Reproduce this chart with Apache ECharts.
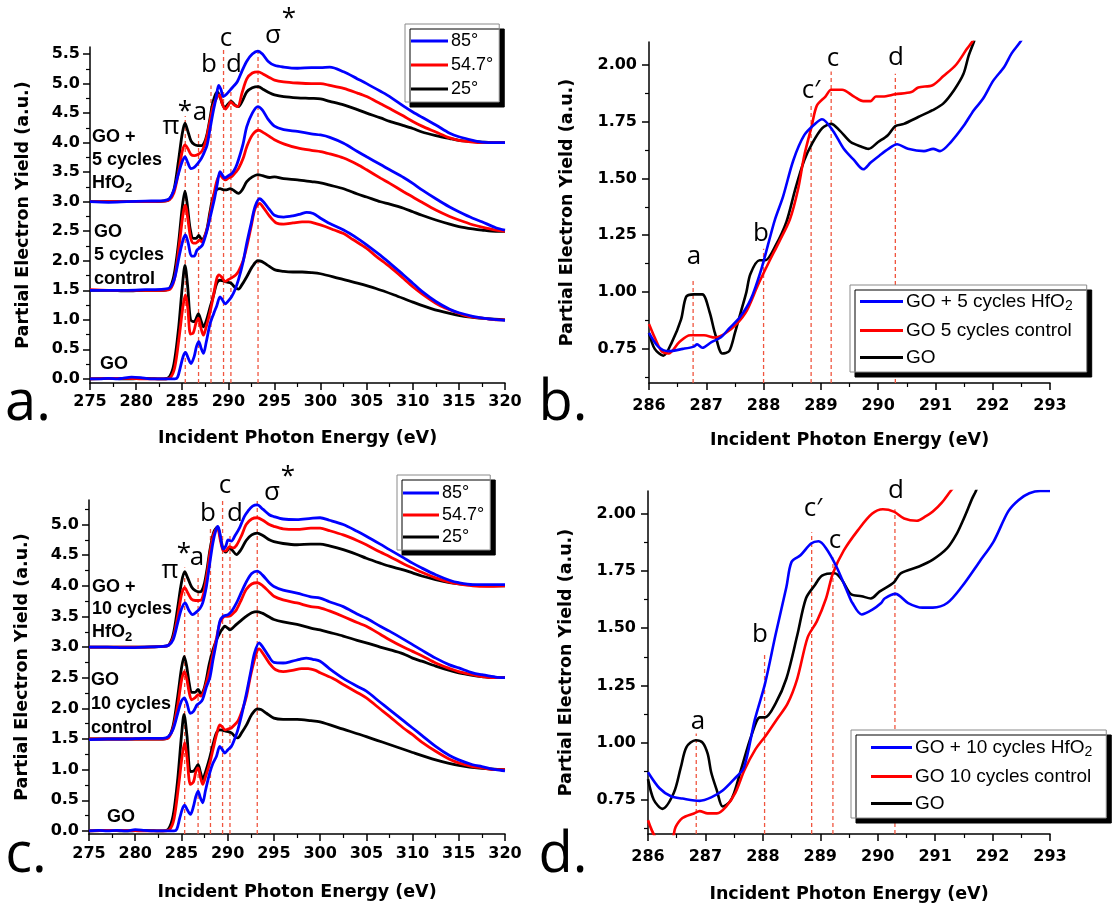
<!DOCTYPE html>
<html><head><meta charset="utf-8">
<script src="https://cdn.jsdelivr.net/npm/echarts@6/dist/echarts.min.js"></script>
<style>html,body{margin:0;padding:0;background:#fff}#c{width:1119px;height:905px}</style>
</head><body><div id="c"></div><script>
// ---------- DATA ----------
// Panel a : offsets 0 (GO), 1.5 (GO 5 cycles control), 3.0 (GO + 5 cycles HfO2)
const aGO_25=[[275,0.0],[277,0.01],[279,0.0],[281,0.01],[283,0.0],[283.6,0.03],[284.1,0.25],[284.6,0.85],[285.0,1.55],[285.3,1.92],[285.6,1.55],[285.9,1.0],[286.3,0.97],[286.75,1.1],[287.05,0.98],[287.3,0.88],[287.6,0.98],[288.0,1.2],[288.4,1.42],[288.75,1.62],[289.1,1.67],[289.5,1.66],[289.8,1.64],[290.3,1.62],[290.7,1.55],[291.1,1.52],[291.5,1.6],[292.0,1.73],[292.6,1.9],[293.2,2.0],[293.6,1.99],[294.2,1.93],[295,1.85],[296,1.82],[297,1.81],[298,1.81],[299,1.8],[300,1.78],[302,1.7],[304,1.62],[306,1.53],[308,1.42],[310,1.3],[312,1.19],[314,1.11],[316,1.05],[318,1.02],[320,1.0]];
const aGO_54=[[275,0.0],[277,0.01],[279,0.01],[281,0.0],[283,0.0],[283.7,0.02],[284.2,0.2],[284.7,0.75],[285.1,1.25],[285.35,1.42],[285.6,1.2],[285.9,0.76],[286.2,0.78],[286.5,0.95],[286.75,1.03],[287.0,0.88],[287.3,0.74],[287.6,0.88],[288.0,1.12],[288.4,1.42],[288.75,1.7],[289.0,1.76],[289.3,1.72],[289.65,1.65],[290.0,1.68],[290.35,1.71],[290.8,1.76],[291.1,1.82],[291.6,2.0],[292.0,2.24],[292.5,2.6],[292.9,2.88],[293.4,2.97],[293.8,2.9],[294.5,2.75],[295.2,2.64],[296,2.62],[297,2.64],[298,2.66],[298.7,2.66],[299.5,2.63],[300.5,2.58],[301.5,2.52],[302.5,2.46],[303.5,2.36],[305,2.21],[306,2.08],[307.5,1.9],[309,1.7],[310,1.56],[311,1.44],[312.5,1.28],[313.5,1.2],[315,1.11],[316,1.06],[317.5,1.03],[319,1.0],[320,1.0]];
const aGO_85=[[275,0.0],[276,0.0],[277,0.01],[278,0.0],[278.5,0.01],[279.5,0.03],[280.5,0.02],[281.5,0.0],[283,0.0],[284.2,0.0],[284.5,0.03],[284.8,0.2],[285.1,0.38],[285.35,0.45],[285.65,0.35],[285.95,0.26],[286.3,0.38],[286.55,0.55],[286.8,0.63],[287.05,0.52],[287.3,0.43],[287.6,0.62],[288.0,0.92],[288.4,1.1],[288.75,1.24],[289.1,1.39],[289.35,1.34],[289.65,1.27],[290.0,1.32],[290.35,1.39],[290.7,1.5],[291.1,1.68],[291.6,1.98],[292.0,2.3],[292.5,2.65],[292.9,2.92],[293.4,3.05],[293.8,3.0],[294.4,2.88],[295,2.77],[296,2.74],[297,2.76],[297.8,2.79],[298.5,2.82],[299.2,2.8],[300,2.72],[301,2.63],[302.5,2.52],[304,2.38],[305,2.27],[306.5,2.09],[307.5,1.96],[309,1.76],[310,1.62],[311,1.48],[312.5,1.31],[314,1.18],[315,1.12],[316.5,1.06],[318,1.02],[320,0.99]];
const aC5_25=[[275,1.5],[277,1.5],[279,1.49],[281,1.5],[283,1.5],[283.6,1.53],[284.1,1.75],[284.6,2.3],[285.0,2.9],[285.3,3.18],[285.55,2.95],[285.85,2.55],[286.2,2.38],[286.5,2.38],[286.8,2.43],[287.1,2.36],[287.4,2.4],[287.7,2.55],[288.0,2.82],[288.3,3.05],[288.7,3.2],[289.1,3.22],[289.5,3.2],[289.8,3.2],[290.2,3.22],[290.5,3.2],[291.1,3.14],[291.5,3.2],[292.0,3.34],[292.6,3.42],[293.2,3.46],[293.7,3.44],[294.5,3.41],[295,3.42],[296,3.39],[297.5,3.37],[299,3.34],[300,3.32],[301,3.28],[302.5,3.22],[304,3.13],[305,3.08],[306.5,3.0],[307.5,2.96],[309,2.89],[310,2.83],[311,2.77],[312.5,2.69],[314,2.62],[315,2.58],[316.5,2.54],[317.5,2.52],[319,2.5],[320,2.5]];
const aC5_54=[[275,1.51],[277,1.5],[279,1.5],[281,1.5],[283,1.5],[283.7,1.52],[284.2,1.72],[284.7,2.3],[285.1,2.8],[285.35,2.94],[285.6,2.72],[285.9,2.4],[286.2,2.3],[286.5,2.3],[286.85,2.35],[287.15,2.32],[287.5,2.44],[287.8,2.6],[288.1,2.85],[288.4,3.1],[288.75,3.35],[289.1,3.45],[289.4,3.4],[289.7,3.37],[290.0,3.4],[290.4,3.43],[290.8,3.5],[291.1,3.56],[291.6,3.73],[292.0,3.93],[292.6,4.13],[293.3,4.21],[293.8,4.17],[294.5,4.1],[295,4.05],[296,3.98],[297.5,3.91],[299,3.87],[300,3.85],[301,3.81],[302.5,3.74],[304,3.63],[305,3.54],[306.5,3.4],[307.5,3.31],[309,3.17],[310,3.08],[311,2.99],[312.5,2.86],[314,2.75],[315,2.69],[316.5,2.61],[317.5,2.57],[319,2.52],[320,2.5]];
const aC5_85=[[275,1.5],[277,1.5],[279,1.5],[281,1.51],[283,1.52],[283.7,1.55],[284.2,1.72],[284.7,2.1],[285.1,2.36],[285.35,2.44],[285.65,2.3],[286.0,2.08],[286.3,2.08],[286.6,2.18],[286.9,2.22],[287.2,2.27],[287.6,2.46],[287.9,2.65],[288.2,2.85],[288.5,3.05],[288.8,3.3],[289.1,3.51],[289.4,3.44],[289.6,3.4],[290.0,3.44],[290.4,3.48],[290.8,3.58],[291.1,3.71],[291.6,3.98],[292.0,4.27],[292.6,4.5],[293.2,4.61],[293.7,4.55],[294.3,4.4],[295,4.28],[296,4.22],[297.5,4.19],[299,4.15],[300,4.13],[301,4.09],[302.5,3.99],[304,3.85],[305,3.76],[306.5,3.63],[307.5,3.54],[309,3.41],[310,3.31],[311,3.2],[312.5,3.05],[314,2.91],[315,2.83],[316.5,2.72],[317.5,2.66],[319,2.56],[320,2.52]];
const aH5_25=[[275,3.0],[277,3.0],[279,3.0],[281,3.0],[283,3.01],[283.6,3.04],[284.1,3.2],[284.6,3.7],[285.0,4.15],[285.3,4.33],[285.6,4.2],[285.95,4.03],[286.3,3.97],[286.7,3.95],[287.1,3.95],[287.4,4.0],[287.7,4.15],[288.0,4.4],[288.35,4.7],[288.8,4.86],[289.05,4.8],[289.3,4.68],[289.6,4.59],[289.95,4.65],[290.3,4.7],[290.7,4.64],[291.1,4.61],[291.5,4.7],[292.0,4.86],[292.6,4.93],[293.25,4.95],[293.8,4.9],[294.5,4.84],[295,4.81],[296,4.78],[297.5,4.76],[299,4.75],[300,4.74],[301,4.7],[302.5,4.64],[304,4.56],[305,4.5],[306.5,4.42],[307.5,4.36],[309,4.29],[310,4.24],[311,4.18],[312.5,4.12],[314,4.07],[315,4.04],[316.5,4.02],[317.5,4.01],[319,4.0],[320,4.0]];
const aH5_54=[[275,3.0],[277,3.0],[279,3.0],[281,3.0],[283,3.01],[283.6,3.03],[284.1,3.15],[284.6,3.5],[285.0,3.85],[285.3,3.96],[285.6,3.9],[285.95,3.8],[286.3,3.78],[286.7,3.8],[287.1,3.85],[287.4,3.95],[287.7,4.12],[288.0,4.36],[288.35,4.62],[288.75,4.76],[289.05,4.81],[289.35,4.65],[289.7,4.57],[290.0,4.63],[290.25,4.69],[290.6,4.64],[291.0,4.61],[291.5,4.85],[292.0,5.08],[292.6,5.18],[293.25,5.2],[293.8,5.16],[294.5,5.1],[295,5.06],[296,5.03],[297.5,5.01],[299,5.0],[300,5.0],[301,4.97],[302.5,4.92],[304,4.84],[305,4.78],[306.5,4.66],[307.5,4.58],[309,4.45],[310,4.36],[311,4.28],[312.5,4.18],[314,4.08],[315,4.04],[316.5,4.01],[317.5,4.0],[319,4.0],[320,4.0]];
const aH5_85=[[275,3.0],[277,2.99],[279,3.0],[281,3.01],[283,3.02],[283.6,3.05],[284.1,3.2],[284.6,3.48],[285.0,3.68],[285.3,3.76],[285.6,3.66],[285.95,3.56],[286.3,3.58],[286.7,3.65],[287.1,3.74],[287.4,3.84],[287.7,3.96],[288.0,4.22],[288.35,4.52],[288.7,4.78],[288.95,4.97],[289.2,4.9],[289.45,4.78],[289.8,4.82],[290.2,4.89],[290.6,4.96],[291.0,5.04],[291.5,5.22],[292.0,5.38],[292.6,5.5],[293.2,5.55],[293.7,5.5],[294.3,5.38],[295,5.31],[296,5.28],[297.5,5.26],[299,5.27],[300,5.27],[301,5.28],[302.5,5.2],[304,5.08],[305,5.0],[306.5,4.87],[307.5,4.78],[309,4.62],[310,4.52],[311,4.43],[312.5,4.3],[314,4.16],[315,4.1],[316.5,4.04],[317.5,4.01],[319,4.0],[320,4.0]];
// Panel c : offsets 0 (GO), 1.5 (GO 10 cycles control), 3.0 (GO + 10 cycles HfO2)
const cGO_25=[[275,0.0],[277,0.01],[279,0.0],[281,0.01],[283,0.0],[283.6,0.03],[284.1,0.25],[284.6,0.85],[285.0,1.55],[285.28,1.9],[285.6,1.55],[285.97,0.97],[286.35,0.98],[286.8,1.08],[287.05,0.96],[287.3,0.84],[287.6,0.96],[288.07,1.2],[288.4,1.4],[288.79,1.6],[289.15,1.65],[289.5,1.64],[289.8,1.63],[290.4,1.6],[290.8,1.54],[291.1,1.52],[291.5,1.6],[292.04,1.73],[292.6,1.9],[293.2,1.99],[293.6,1.98],[294.2,1.92],[295,1.84],[296,1.82],[297.5,1.82],[299,1.8],[300,1.78],[302.5,1.66],[305,1.54],[307.5,1.41],[310,1.28],[312.5,1.16],[315,1.07],[317.5,1.02],[320,1.0]];
const cGO_54=[[275,0.0],[277,0.01],[279,0.01],[281,0.0],[283,0.0],[283.7,0.02],[284.2,0.2],[284.7,0.75],[285.1,1.25],[285.35,1.44],[285.6,1.2],[285.97,0.76],[286.3,0.8],[286.55,0.96],[286.8,1.03],[287.05,0.88],[287.3,0.76],[287.6,0.88],[288.07,1.11],[288.4,1.32],[288.79,1.57],[289.15,1.73],[289.4,1.7],[289.7,1.65],[290.0,1.66],[290.4,1.68],[290.8,1.74],[291.1,1.79],[291.6,1.98],[292.04,2.2],[292.5,2.55],[293.1,2.9],[293.4,2.97],[293.8,2.9],[294.5,2.74],[295.2,2.63],[296,2.6],[297,2.62],[298,2.65],[298.7,2.65],[299.5,2.62],[300,2.58],[301.5,2.48],[302.5,2.39],[304,2.26],[305,2.17],[306.5,1.99],[307.5,1.87],[309,1.68],[310,1.57],[311,1.45],[312.5,1.3],[314,1.17],[315,1.11],[316.5,1.05],[317.5,1.03],[319,1.0],[320,1.0]];
const cGO_85=[[275,0.0],[276,0.01],[277,0.0],[278,0.01],[279,0.0],[280,0.02],[281,0.01],[282,0.0],[284.2,0.0],[284.5,0.03],[284.8,0.2],[285.1,0.36],[285.35,0.42],[285.65,0.34],[285.97,0.27],[286.3,0.4],[286.55,0.56],[286.8,0.65],[287.05,0.54],[287.3,0.46],[287.6,0.66],[288.07,0.95],[288.4,1.1],[288.79,1.22],[289.15,1.38],[289.4,1.33],[289.7,1.27],[290.0,1.32],[290.4,1.38],[290.7,1.48],[291.1,1.65],[291.6,1.95],[292.04,2.25],[292.5,2.6],[292.9,2.9],[293.4,3.07],[293.8,3.0],[294.4,2.86],[295,2.75],[296,2.74],[297,2.77],[297.8,2.8],[298.5,2.82],[299.2,2.8],[300,2.77],[301,2.65],[302.5,2.49],[304,2.36],[305,2.28],[306.5,2.1],[307.5,1.98],[309,1.8],[310,1.68],[311,1.56],[312.5,1.38],[314,1.23],[315,1.16],[316.5,1.08],[317.5,1.05],[319,1.0],[320,0.98]];
const cC10_25=[[275,1.5],[277,1.5],[279,1.5],[281,1.5],[283,1.5],[283.6,1.53],[284.1,1.72],[284.6,2.2],[285.0,2.65],[285.3,2.85],[285.55,2.7],[285.85,2.4],[286.1,2.26],[286.45,2.26],[286.8,2.31],[287.1,2.24],[287.4,2.3],[287.7,2.48],[288.0,2.72],[288.4,2.95],[288.8,3.12],[289.15,3.23],[289.45,3.3],[289.7,3.34],[290.0,3.31],[290.25,3.28],[290.6,3.32],[290.95,3.37],[291.5,3.44],[292.0,3.5],[292.6,3.56],[293.2,3.58],[293.8,3.55],[294.5,3.49],[295,3.45],[296,3.41],[297.5,3.37],[299,3.31],[300,3.28],[301,3.24],[302.5,3.18],[304,3.11],[305,3.07],[306.5,3.0],[307.5,2.96],[309,2.89],[310,2.82],[311,2.77],[312.5,2.69],[314,2.62],[315,2.58],[316.5,2.54],[317.5,2.52],[319,2.5],[320,2.5]];
const cC10_54=[[275,1.5],[277,1.5],[279,1.5],[281,1.5],[283,1.5],[283.6,1.52],[284.1,1.68],[284.6,2.05],[285.0,2.45],[285.3,2.6],[285.55,2.5],[285.85,2.25],[286.1,2.14],[286.45,2.17],[286.8,2.22],[287.1,2.2],[287.4,2.27],[287.7,2.42],[288.0,2.6],[288.4,2.88],[288.8,3.15],[289.15,3.39],[289.45,3.47],[289.7,3.5],[290.0,3.5],[290.3,3.51],[290.6,3.55],[290.95,3.61],[291.5,3.78],[292.0,3.94],[292.6,4.03],[293.2,4.05],[293.8,4.0],[294.5,3.9],[295,3.83],[296,3.77],[297.5,3.72],[299,3.66],[300,3.64],[301,3.59],[302.5,3.5],[304,3.4],[305,3.34],[306.5,3.21],[307.5,3.12],[309,3.0],[310,2.93],[311,2.86],[312.5,2.74],[314,2.65],[315,2.6],[316.5,2.55],[317.5,2.52],[319,2.5],[320,2.5]];
const cC10_85=[[275,1.49],[277,1.5],[279,1.5],[281,1.51],[283,1.51],[283.6,1.54],[284.1,1.66],[284.6,1.92],[285.0,2.12],[285.3,2.17],[285.6,2.08],[285.95,1.92],[286.3,1.95],[286.7,2.06],[287.0,2.09],[287.3,2.15],[287.7,2.35],[288.07,2.5],[288.4,2.78],[288.8,3.1],[289.15,3.42],[289.5,3.5],[290.05,3.53],[290.5,3.6],[290.96,3.72],[291.5,3.9],[292.04,4.07],[292.6,4.2],[293.2,4.24],[293.8,4.17],[294.5,4.05],[295,3.99],[296,3.93],[297.5,3.88],[299,3.82],[300,3.8],[301,3.74],[302.5,3.66],[304,3.54],[305,3.47],[306.5,3.34],[307.5,3.26],[309,3.13],[310,3.04],[311,2.95],[312.5,2.82],[314,2.71],[315,2.66],[316.5,2.58],[317.5,2.55],[319,2.51],[320,2.5]];
const cH10_25=[[275,3.0],[277,3.0],[279,3.0],[281,3.0],[283,3.01],[283.6,3.03],[284.1,3.2],[284.6,3.65],[285.0,4.05],[285.35,4.23],[285.7,4.12],[286.1,3.98],[286.5,3.92],[286.9,3.9],[287.2,3.92],[287.5,4.05],[287.8,4.3],[288.1,4.6],[288.5,4.88],[288.9,4.96],[289.2,4.8],[289.5,4.6],[289.8,4.55],[290.2,4.62],[290.5,4.58],[290.95,4.51],[291.4,4.58],[292.0,4.74],[292.6,4.83],[293.2,4.86],[293.8,4.82],[294.5,4.75],[295,4.72],[296,4.69],[297.5,4.67],[299,4.68],[300,4.68],[301,4.65],[302.5,4.59],[304,4.51],[305,4.45],[306.5,4.37],[307.5,4.32],[309,4.26],[310,4.21],[311,4.16],[312.5,4.1],[314,4.05],[315,4.03],[316.5,4.01],[318,4.0],[320,4.0]];
const cH10_54=[[275,3.0],[277,3.0],[279,3.0],[281,3.0],[283,3.01],[283.6,3.03],[284.1,3.15],[284.6,3.5],[285.0,3.85],[285.35,3.97],[285.7,3.88],[286.1,3.78],[286.5,3.76],[286.9,3.76],[287.2,3.78],[287.5,3.95],[287.8,4.22],[288.1,4.55],[288.5,4.85],[288.9,4.95],[289.2,4.75],[289.5,4.58],[289.8,4.57],[290.2,4.64],[290.6,4.62],[290.95,4.66],[291.5,4.82],[292.0,5.0],[292.6,5.09],[293.2,5.11],[293.8,5.07],[294.5,5.0],[295,4.97],[296,4.93],[297.5,4.92],[299,4.94],[300,4.94],[301,4.9],[302.5,4.83],[304,4.74],[305,4.67],[306.5,4.55],[307.5,4.48],[309,4.36],[310,4.29],[311,4.22],[312.5,4.13],[314,4.06],[315,4.03],[316.5,4.0],[318,3.99],[320,4.0]];
const cH10_85=[[275,3.0],[277,3.0],[279,2.99],[281,3.0],[283,3.01],[283.6,3.03],[284.1,3.12],[284.6,3.4],[285.0,3.62],[285.4,3.72],[285.8,3.6],[286.2,3.53],[286.6,3.57],[287.0,3.63],[287.3,3.72],[287.7,3.99],[288.0,4.3],[288.4,4.7],[288.75,4.92],[288.95,4.97],[289.2,4.82],[289.5,4.6],[289.8,4.65],[290.05,4.75],[290.4,4.73],[290.8,4.82],[291.3,4.95],[291.8,5.13],[292.2,5.22],[292.7,5.3],[293.2,5.32],[293.8,5.25],[294.5,5.16],[295,5.13],[296,5.09],[297.5,5.08],[299,5.1],[300,5.11],[301,5.07],[302.5,5.0],[304,4.89],[305,4.81],[306.5,4.68],[307.5,4.59],[309,4.46],[310,4.37],[311,4.29],[312.5,4.18],[314,4.09],[315,4.05],[316.5,4.02],[318,4.02],[320,4.02]];
// Panel b (zoom, 5 cycles)
const bH5=[[286.0,0.82],[286.16,0.76],[286.34,0.74],[286.59,0.75],[286.78,0.76],[286.84,0.77],[286.93,0.755],[287.09,0.78],[287.25,0.8],[287.4,0.84],[287.59,0.89],[287.78,0.97],[287.96,1.1],[288.09,1.22],[288.2,1.32],[288.34,1.42],[288.52,1.58],[288.71,1.69],[288.9,1.74],[289.02,1.76],[289.21,1.71],[289.4,1.63],[289.58,1.58],[289.74,1.54],[289.87,1.57],[290.02,1.6],[290.18,1.63],[290.33,1.65],[290.52,1.63],[290.8,1.62],[290.96,1.63],[291.08,1.62],[291.27,1.66],[291.49,1.73],[291.67,1.8],[291.83,1.85],[292.01,1.93],[292.2,1.99],[292.33,2.05],[292.48,2.1],[292.6,2.15]];
const bC5=[[286.0,0.86],[286.1,0.8],[286.22,0.74],[286.34,0.73],[286.53,0.78],[286.72,0.81],[286.96,0.81],[287.15,0.8],[287.34,0.82],[287.53,0.86],[287.71,0.92],[287.9,1.03],[288.09,1.13],[288.27,1.22],[288.46,1.32],[288.6,1.45],[288.71,1.6],[288.84,1.73],[288.93,1.82],[289.08,1.86],[289.18,1.89],[289.37,1.89],[289.58,1.86],[289.74,1.84],[289.87,1.84],[289.96,1.86],[290.08,1.86],[290.3,1.87],[290.58,1.88],[290.7,1.9],[290.95,1.91],[291.14,1.95],[291.36,2.0],[291.55,2.07],[291.64,2.1],[291.75,2.15]];
const bGO=[[286.0,0.82],[286.1,0.75],[286.25,0.72],[286.4,0.78],[286.56,0.88],[286.65,0.98],[286.78,0.99],[286.93,0.99],[287.06,0.91],[287.15,0.82],[287.28,0.73],[287.4,0.74],[287.5,0.82],[287.6,0.91],[287.7,1.0],[287.77,1.08],[287.93,1.14],[288.03,1.14],[288.2,1.2],[288.4,1.31],[288.55,1.45],[288.71,1.58],[288.84,1.65],[289.02,1.72],[289.18,1.74],[289.33,1.71],[289.52,1.66],[289.7,1.64],[289.83,1.63],[290.0,1.66],[290.17,1.69],[290.3,1.73],[290.45,1.74],[290.7,1.77],[290.95,1.8],[291.14,1.83],[291.33,1.89],[291.49,1.96],[291.58,2.04],[291.67,2.1],[291.75,2.16]];
// Panel d (zoom, 10 cycles)
const dH10=[[286.0,0.87],[286.2,0.8],[286.4,0.765],[286.6,0.755],[286.9,0.745],[287.1,0.76],[287.3,0.79],[287.5,0.84],[287.67,0.89],[287.86,1.1],[288.04,1.26],[288.22,1.47],[288.41,1.68],[288.5,1.79],[288.66,1.82],[288.84,1.87],[288.97,1.88],[289.1,1.85],[289.28,1.77],[289.47,1.66],[289.56,1.61],[289.72,1.56],[289.9,1.58],[290.06,1.61],[290.12,1.63],[290.31,1.65],[290.53,1.61],[290.78,1.59],[290.96,1.59],[291.21,1.61],[291.46,1.68],[291.77,1.79],[292.02,1.88],[292.27,2.01],[292.45,2.06],[292.64,2.09],[292.83,2.1],[293.0,2.1]];
const dC10=[[286.0,0.66],[286.2,0.57],[286.4,0.57],[286.48,0.63],[286.6,0.67],[286.8,0.69],[286.9,0.7],[287.04,0.69],[287.2,0.69],[287.36,0.72],[287.52,0.78],[287.68,0.88],[287.87,0.97],[288.05,1.03],[288.24,1.1],[288.43,1.17],[288.6,1.28],[288.78,1.46],[288.94,1.53],[289.1,1.63],[289.22,1.74],[289.41,1.84],[289.66,1.93],[289.9,2.0],[290.09,2.02],[290.28,2.01],[290.46,1.98],[290.68,1.97],[290.84,1.99],[290.96,2.01],[291.12,2.05],[291.27,2.1],[291.4,2.14]];
const dGO=[[286.0,0.84],[286.1,0.75],[286.25,0.71],[286.45,0.78],[286.57,0.89],[286.67,0.98],[286.83,1.01],[286.95,1.0],[287.04,0.95],[287.1,0.87],[287.2,0.79],[287.3,0.72],[287.42,0.74],[287.5,0.78],[287.63,0.89],[287.8,1.03],[287.95,1.11],[288.04,1.11],[288.22,1.17],[288.41,1.28],[288.6,1.47],[288.75,1.63],[288.91,1.69],[289.03,1.73],[289.25,1.74],[289.38,1.71],[289.53,1.65],[289.72,1.64],[289.88,1.63],[290.03,1.66],[290.28,1.7],[290.4,1.74],[290.72,1.77],[290.96,1.8],[291.21,1.85],[291.37,1.91],[291.5,1.98],[291.65,2.07],[291.71,2.1],[291.8,2.16]];
// Dashed reference lines (energy, top value)
const dashA=[285.33,286.77,288.12,289.48,290.28,293.22], dashTopA=[4.45,4.15,4.97,5.58,4.93,5.62];
const dashC=[285.35,286.8,288.14,289.45,290.25,293.2], dashTopC=[4.3,4.13,4.94,5.4,4.83,5.4];
const dashB=[286.77,288.0,288.83,289.18,290.3], dashTopB=[1.06,1.19,1.82,1.97,1.96];
const dashD=[286.84,288.03,288.85,289.22,290.3], dashTopD=[1.04,1.39,1.92,1.81,2.02];
// Tick values
const yTicksA=[0,0.5,1,1.5,2,2.5,3,3.5,4,4.5,5,5.5], yMinorA=[0.25,0.75,1.25,1.75,2.25,2.75,3.25,3.75,4.25,4.75,5.25];
const yTicksC=[0,0.5,1,1.5,2,2.5,3,3.5,4,4.5,5], yMinorC=[0.25,0.75,1.25,1.75,2.25,2.75,3.25,3.75,4.25,4.75,5.25];
const yTicksB=[0.75,1.0,1.25,1.5,1.75,2.0], yMinorB=[0.625,0.875,1.125,1.375,1.625,1.875];
const angleNames=['85°','54.7°','25°'];
const namesB=['GO + 5 cycles HfO2','GO 5 cycles control','GO'];
const namesD=['GO + 10 cycles HfO2','GO 10 cycles control','GO'];

// ---------- CHART ----------
const BLUE='#0000ff', RED='#ff0000', BLACK='#000000', DASH='#f0553f';
const FF='"Liberation Sans", Arial, sans-serif', FD='"DejaVu Sans", sans-serif', FL='"Open Sans", "DejaVu Sans", sans-serif';
const chart=echarts.init(document.getElementById('c'),null,{renderer:'canvas'});
const grids=[
  {left:90,top:47,width:415,height:336},
  {left:649,top:42,width:401,height:341},
  {left:89,top:500,width:416,height:334},
  {left:648,top:491,width:402,height:343}
];
const nameStyle={fontSize:17.5,fontWeight:'bold',fontFamily:FD,color:'#000'};
function xAx(gi,min,max,interval,gap,margin){return {type:'value',gridIndex:gi,min,max,interval,
  name:'Incident Photon Energy (eV)',nameLocation:'middle',nameGap:gap,nameTextStyle:nameStyle,
  axisLine:{onZero:false,lineStyle:{color:'#000',width:1.5}},
  axisTick:{inside:false,length:7,lineStyle:{color:'#000',width:1.5}},
  minorTick:{show:true,splitNumber:2,length:4,lineStyle:{color:'#000',width:1.2}},
  axisLabel:{fontSize:16,fontWeight:'bold',fontFamily:FD,color:'#000',margin:margin},
  splitLine:{show:false}};}
function yAx(gi,min,max,ticks,dec,gap,margin){return {type:'value',gridIndex:gi,min,max,position:'left',
  name:'Partial Electron Yield (a.u.)',nameLocation:'middle',nameGap:gap,nameTextStyle:nameStyle,
  axisLine:{onZero:false,lineStyle:{color:'#000',width:1.5}},
  axisTick:{inside:false,length:7,customValues:ticks,lineStyle:{color:'#000',width:1.5}},
  axisLabel:{customValues:ticks,fontSize:16,fontWeight:'bold',fontFamily:FD,color:'#000',margin:margin,formatter:v=>v.toFixed(dec)},
  splitLine:{show:false}};}
function yMinor(gi,min,max,ticks){return {type:'value',gridIndex:gi,min,max,position:'left',offset:0,
  axisLine:{show:false},axisLabel:{show:false},splitLine:{show:false},
  axisTick:{show:true,inside:false,length:4,customValues:ticks,lineStyle:{color:'#000',width:1.2}}};}

function curve(name,data,ai,color,w){return {type:'line',name,data,xAxisIndex:ai,yAxisIndex:ai,symbol:'none',showSymbol:false,
  smooth:0.3,lineStyle:{color,width:w},itemStyle:{color},z:3,silent:true,animation:false};}
function vline(x,y0,y1,ai){return {type:'line',data:[[x,y0],[x,y1]],xAxisIndex:ai,yAxisIndex:ai,symbol:'none',
  lineStyle:{color:DASH,width:1.3,type:[4,3]},z:2,silent:true,animation:false};}

const series=[];
// panel a
[[aGO_25,aC5_25,aH5_25,BLACK,'25°'],[aGO_54,aC5_54,aH5_54,RED,'54.7°'],[aGO_85,aC5_85,aH5_85,BLUE,'85°']].forEach(g=>{
  for(let i=0;i<3;i++) series.push(curve(g[4],g[i],0,g[3],2.8));});
dashA.forEach((x,i)=>series.push(vline(x,-0.07,dashTopA[i],0)));
// panel c
[[cGO_25,cC10_25,cH10_25,BLACK,'25°'],[cGO_54,cC10_54,cH10_54,RED,'54.7°'],[cGO_85,cC10_85,cH10_85,BLUE,'85°']].forEach(g=>{
  for(let i=0;i<3;i++) series.push(curve(g[4],g[i],2,g[3],2.8));});
dashC.forEach((x,i)=>series.push(vline(x,-0.05,dashTopC[i],2)));
// panel b
dashB.forEach((x,i)=>series.push(vline(x,0.6,dashTopB[i],1)));
series.push(curve(namesB[2],bGO,1,BLACK,2.6));
series.push(curve(namesB[1],bC5,1,RED,2.6));
series.push(curve(namesB[0],bH5,1,BLUE,2.6));
// panel d
dashD.forEach((x,i)=>series.push(vline(x,0.6,dashTopD[i],3)));
series.push(curve(namesD[2],dGO,3,BLACK,2.6));
series.push(curve(namesD[1],dC10,3,RED,2.6));
series.push(curve(namesD[0],dH10,3,BLUE,2.6));

function legend(data,left,top,w,gap,fs,pad){return {data,left,top,orient:'vertical',icon:'rect',itemWidth:w,itemHeight:3,itemGap:gap,
  padding:pad,backgroundColor:'#fff',borderColor:'#8a8a8a',borderWidth:1,
  shadowColor:'#000',shadowBlur:0,shadowOffsetX:5,shadowOffsetY:5,selectedMode:false,
  formatter:n=>n.replace('HfO2','HfO{s|2}'),
  textStyle:{fontSize:fs,fontFamily:FF,color:'#000',padding:[0,0,0,-2],rich:{s:{fontSize:14,fontFamily:FF,padding:[9,0,0,0]}}}};}

function t(x,y,s,fs){return {type:'text',x,y,silent:true,style:{text:s,fontSize:fs,fontFamily:FL,fill:'#000',align:'center',verticalAlign:'middle'}};}
function tb(x,y,s){return {type:'text',x,y,silent:true,style:{text:s,fontSize:18,fontWeight:'bold',fontFamily:FF,fill:'#000',align:'left',verticalAlign:'middle',
  rich:{s:{fontSize:13,fontWeight:'bold',fontFamily:FF,padding:[10,0,0,0]}}}};}
const graphics=[
  // panel letters
  t(28,404,'a.',56),t(563,404,'b.',56),t(26,856,'c.',56),t(563,856,'d.',56),
  // panel a annotations
  t(171,127,'π',26),t(185,112,'*',26),t(200,113,'a',26),t(209,65,'b',26),t(226,39,'c',26),t(234,65,'d',26),t(273,36,'σ',26),t(289,19,'*',26),
  tb(92,137,'GO +'),tb(92,160,'5 cycles'),tb(92,183,'HfO{s|2}'),tb(94,232,'GO'),tb(94,255,'5 cycles'),tb(94,279,'control'),tb(100,364,'GO'),
  // panel c annotations
  t(170,571,'π',26),t(184,554,'*',26),t(197,558,'a',26),t(208,514,'b',26),t(225,486,'c',26),t(235,514,'d',26),t(272,493,'σ',26),t(288,477,'*',26),
  tb(92,587,'GO +'),tb(92,609,'10 cycles'),tb(92,632,'HfO{s|2}'),tb(91,680,'GO'),tb(91,704,'10 cycles'),tb(91,728,'control'),tb(107,817,'GO'),
  // panel b annotations
  t(811,91,'c′',26),t(833,59,'c',26),t(896,58,'d',26),t(694,257,'a',26),t(761,234,'b',26),
  // panel d annotations
  t(896,491,'d',26),t(813,509,'c′',26),t(835,541,'c',26),t(760,635,'b',26),t(698,722,'a',26)
];

chart.setOption({
  animation:false,
  grid:grids,
  xAxis:[xAx(0,275,320,5,46,11),xAx(1,286,293,1,48,15),xAx(2,275,320,5,49,12),xAx(3,286,293,1,51,15)],
  yAxis:[yAx(0,-0.07,5.62,yTicksA,1,58,10),yAx(1,0.6,2.1,yTicksB,2,73,12),yAx(2,-0.05,5.40,yTicksC,1,58,10),yAx(3,0.6,2.1,yTicksB,2,73,12),
         yMinor(0,-0.07,5.62,yMinorA),yMinor(1,0.6,2.1,yMinorB),yMinor(2,-0.05,5.40,yMinorC),yMinor(3,0.6,2.1,yMinorB)],
  legend:[legend(angleNames,405,24,37,6,18,[8,6,4,6]),
          legend(namesB,850,285,43,8,19,[7,14,5,10]),
          legend(angleNames,397,475,36,4,18,[9,6,4,6]),
          legend(namesD,851,730,41,8,19,[8,14,5,20])],
  series,
  graphic:graphics
});
</script></body></html>
